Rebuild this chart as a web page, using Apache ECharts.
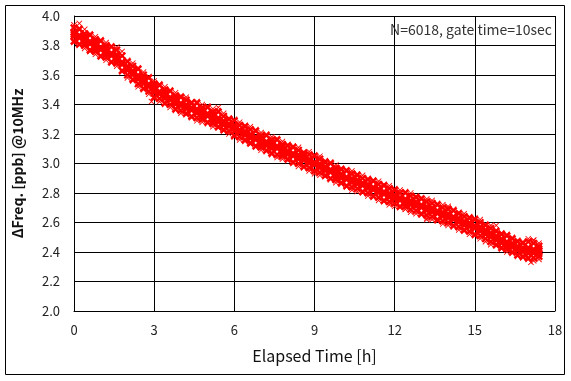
<!DOCTYPE html>
<html>
<head>
<meta charset="utf-8">
<script src="https://cdn.jsdelivr.net/npm/echarts@6/dist/echarts.min.js"></script>
<style>
html,body{margin:0;padding:0;background:#fff;}
#chart{width:571px;height:381px;}
</style>
</head>
<body>
<div id="chart"></div>
<script>
// Elapsed time [h], sampled every 0.2 h
var hours = [0.0,0.2,0.4,0.6,0.8,1.0,1.2,1.4,1.6,1.8,2.0,2.2,2.4,2.6,2.8,3.0,3.2,3.4,3.6,3.8,4.0,4.2,4.4,4.6,4.8,5.0,5.2,5.4,5.6,5.8,6.0,6.2,6.4,6.6,6.8,7.0,7.2,7.4,7.6,7.8,8.0,8.2,8.4,8.6,8.8,9.0,9.2,9.4,9.6,9.8,10.0,10.2,10.4,10.6,10.8,11.0,11.2,11.4,11.6,11.8,12.0,12.2,12.4,12.6,12.8,13.0,13.2,13.4,13.6,13.8,14.0,14.2,14.4,14.6,14.8,15.0,15.2,15.4,15.6,15.8,16.0,16.2,16.4,16.6,16.8,17.0,17.2,17.4];

// Frequency readings (ppb) across the scatter band, from the upper fringe down to the lower fringe
var freqFringeTop = [3.94,3.92,3.91,3.88,3.86,3.84,3.82,3.80,3.79,3.76,3.70,3.68,3.65,3.62,3.59,3.56,3.54,3.52,3.50,3.48,3.46,3.45,3.42,3.42,3.40,3.39,3.37,3.36,3.34,3.31,3.30,3.28,3.26,3.25,3.23,3.21,3.20,3.18,3.17,3.15,3.13,3.12,3.11,3.08,3.08,3.06,3.05,3.02,3.01,2.99,2.97,2.96,2.95,2.93,2.92,2.90,2.89,2.88,2.86,2.85,2.83,2.82,2.81,2.80,2.78,2.77,2.76,2.75,2.73,2.72,2.71,2.69,2.67,2.66,2.64,2.63,2.62,2.59,2.58,2.55,2.53,2.52,2.50,2.48,2.47,2.49,2.48,2.46];
var freqTop = [3.92,3.91,3.88,3.87,3.84,3.83,3.80,3.79,3.77,3.73,3.69,3.66,3.64,3.60,3.58,3.54,3.53,3.50,3.49,3.46,3.45,3.43,3.41,3.41,3.38,3.38,3.35,3.35,3.32,3.30,3.29,3.26,3.25,3.23,3.22,3.19,3.19,3.16,3.16,3.13,3.12,3.11,3.09,3.07,3.06,3.05,3.03,3.01,3.00,2.97,2.96,2.95,2.93,2.92,2.90,2.89,2.88,2.86,2.85,2.83,2.82,2.80,2.80,2.78,2.77,2.76,2.74,2.73,2.72,2.70,2.69,2.68,2.66,2.64,2.63,2.62,2.60,2.58,2.56,2.54,2.52,2.51,2.49,2.47,2.46,2.47,2.46,2.44];
var freqUpMid = [3.89,3.87,3.86,3.83,3.82,3.79,3.78,3.75,3.74,3.69,3.66,3.63,3.60,3.58,3.54,3.52,3.49,3.48,3.45,3.44,3.41,3.40,3.38,3.37,3.36,3.34,3.33,3.31,3.29,3.27,3.26,3.23,3.22,3.20,3.18,3.17,3.15,3.14,3.12,3.11,3.09,3.07,3.06,3.05,3.03,3.01,3.00,2.98,2.96,2.95,2.93,2.91,2.90,2.89,2.87,2.86,2.84,2.83,2.81,2.80,2.79,2.77,2.76,2.75,2.74,2.72,2.71,2.70,2.68,2.67,2.66,2.64,2.63,2.61,2.60,2.58,2.57,2.55,2.53,2.51,2.49,2.47,2.46,2.44,2.43,2.43,2.42,2.42];
var freqMid = [3.875,3.86,3.84,3.82,3.80,3.78,3.76,3.74,3.72,3.68,3.645,3.615,3.585,3.56,3.53,3.50,3.48,3.46,3.44,3.42,3.40,3.385,3.37,3.355,3.34,3.33,3.31,3.295,3.275,3.26,3.24,3.22,3.205,3.185,3.17,3.15,3.135,3.12,3.11,3.09,3.075,3.06,3.045,3.03,3.015,3.00,2.985,2.965,2.95,2.93,2.915,2.90,2.885,2.875,2.86,2.845,2.83,2.815,2.80,2.785,2.773,2.76,2.75,2.738,2.725,2.71,2.697,2.685,2.67,2.657,2.643,2.63,2.612,2.598,2.585,2.57,2.553,2.535,2.515,2.495,2.475,2.46,2.443,2.43,2.415,2.41,2.408,2.405];
var freqLoMid = [3.86,3.85,3.82,3.81,3.78,3.77,3.74,3.73,3.70,3.67,3.63,3.60,3.57,3.54,3.52,3.48,3.47,3.44,3.43,3.40,3.39,3.37,3.36,3.34,3.32,3.32,3.29,3.28,3.26,3.25,3.22,3.21,3.19,3.17,3.16,3.13,3.12,3.10,3.10,3.07,3.06,3.05,3.03,3.02,3.00,2.99,2.97,2.95,2.94,2.91,2.90,2.89,2.87,2.86,2.85,2.83,2.82,2.80,2.79,2.77,2.76,2.75,2.73,2.72,2.71,2.70,2.68,2.67,2.66,2.64,2.63,2.62,2.60,2.58,2.57,2.56,2.54,2.52,2.50,2.48,2.46,2.44,2.43,2.41,2.40,2.39,2.39,2.39];
var freqBot = [3.83,3.81,3.80,3.77,3.76,3.73,3.72,3.69,3.68,3.63,3.60,3.57,3.54,3.51,3.49,3.45,3.44,3.41,3.40,3.37,3.36,3.34,3.32,3.31,3.30,3.28,3.27,3.25,3.23,3.22,3.19,3.18,3.16,3.14,3.12,3.11,3.09,3.07,3.06,3.05,3.03,3.01,3.00,2.98,2.97,2.95,2.94,2.92,2.90,2.89,2.87,2.85,2.84,2.83,2.81,2.80,2.78,2.77,2.75,2.74,2.73,2.71,2.71,2.69,2.68,2.66,2.65,2.64,2.62,2.61,2.60,2.58,2.57,2.55,2.54,2.52,2.51,2.49,2.47,2.45,2.43,2.42,2.40,2.38,2.37,2.36,2.36,2.37];
var freqFringeBot = [3.82,3.80,3.78,3.76,3.74,3.72,3.70,3.68,3.66,3.62,3.58,3.56,3.52,3.50,3.47,3.44,3.42,3.40,3.38,3.36,3.34,3.33,3.31,3.29,3.28,3.27,3.25,3.24,3.22,3.20,3.18,3.16,3.15,3.13,3.11,3.09,3.08,3.06,3.04,3.03,3.02,3.00,2.98,2.97,2.95,2.93,2.92,2.91,2.89,2.87,2.86,2.84,2.82,2.81,2.80,2.78,2.77,2.75,2.74,2.72,2.71,2.70,2.69,2.67,2.66,2.65,2.63,2.62,2.61,2.59,2.58,2.57,2.55,2.54,2.52,2.51,2.49,2.47,2.45,2.44,2.42,2.40,2.39,2.37,2.36,2.35,2.34,2.35];

// Stray points outside the band
var strayHours = [0.2,0.6,1.0,2.9,5.4,12.4,13.2,14.0,14.6,15.8,17.1,17.2];
var strayFreq  = [3.95,3.76,3.73,3.42,3.38,2.69,2.62,2.70,2.55,2.58,2.33,2.48];

// Axis ticks
var xTicks = [0,3,6,9,12,15,18];
var yTicks = [2.0,2.2,2.4,2.6,2.8,3.0,3.2,3.4,3.6,3.8,4.0];

var noteText = 'N=6018, gate time=10sec';

function pairs(xs, ys){ var out=[]; for(var i=0;i<xs.length;i++){ out.push([xs[i], ys[i]]); } return out; }

var FONT = '"Noto Sans CJK KR","Noto Sans",sans-serif';
var X_THICK = 'path://M0,2L2,0L5,3L8,0L10,2L7,5L10,8L8,10L5,7L2,10L0,8L3,5Z';
var X_THIN = 'path://M0,1L1,0L5,4L9,0L10,1L6,5L10,9L9,10L5,6L1,10L0,9L4,5Z';

function scatter(data, sym, size){
  return {
    type:'scatter', data:data, symbol:sym, symbolSize:size,
    itemStyle:{color:'#ff0000', opacity:1}, silent:true, animation:false
  };
}

var chart = echarts.init(document.getElementById('chart'), null, {renderer:'canvas'});
chart.setOption({
  animation:false,
  backgroundColor:'#ffffff',
  grid:{left:74, right:16, top:16, bottom:70, containLabel:false},
  xAxis:{
    type:'value', min:xTicks[0], max:xTicks[xTicks.length-1], interval:3,
    name:'Elapsed Time [h]', nameLocation:'middle', nameGap:37,
    nameTextStyle:{fontFamily:FONT, fontSize:16, color:'#111'},
    axisLine:{show:true, lineStyle:{color:'#000', width:1}},
    axisTick:{show:false},
    axisLabel:{fontFamily:FONT, fontSize:13, color:'#222', margin:13},
    splitLine:{show:true, lineStyle:{color:'#000', width:1}}
  },
  yAxis:{
    type:'value', min:yTicks[0], max:yTicks[yTicks.length-1], interval:0.2,
    name:'ΔFreq. [ppb] @10MHz', nameLocation:'middle', nameGap:49,
    nameTextStyle:{fontFamily:FONT, fontSize:14, fontWeight:'bold', color:'#111'},
    axisLine:{show:true, lineStyle:{color:'#000', width:1}},
    axisTick:{show:false},
    axisLabel:{fontFamily:FONT, fontSize:13, color:'#222', margin:14,
      formatter:function(v){ return v.toFixed(1); }},
    splitLine:{show:true, lineStyle:{color:'#000', width:1}}
  },
  graphic:[
    {type:'rect', shape:{x:5.5, y:5.5, width:559, height:369},
     style:{fill:null, stroke:'#000', lineWidth:1}, silent:true, z:-1},
    {type:'text', right:19, top:23,
     style:{text:noteText, font:'14px '+FONT, fill:'#333'}, z:10}
  ],
  series:[
    scatter(pairs(hours, freqFringeTop), X_THIN, 6),
    scatter(pairs(hours, freqFringeBot), X_THIN, 6),
    scatter(pairs(hours, freqTop), X_THICK, 8),
    scatter(pairs(hours, freqUpMid), X_THICK, 8),
    scatter(pairs(hours, freqMid), X_THICK, 8),
    scatter(pairs(hours, freqLoMid), X_THICK, 8),
    scatter(pairs(hours, freqBot), X_THICK, 8),
    scatter(pairs(strayHours, strayFreq), X_THIN, 6)
  ]
});
</script>
</body>
</html>
